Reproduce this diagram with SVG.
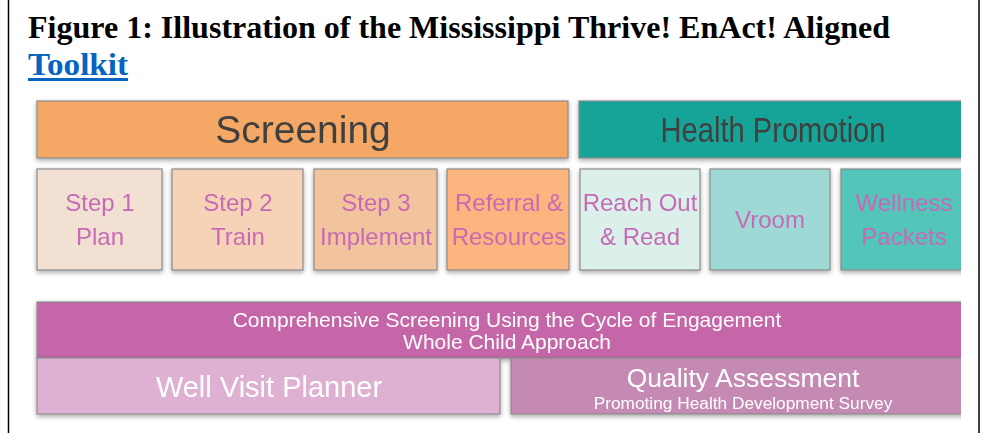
<svg xmlns="http://www.w3.org/2000/svg" width="981" height="433" viewBox="0 0 981 433">
<defs>
<filter id="sh" x="-5%" y="-10%" width="110%" height="130%">
<feGaussianBlur in="SourceAlpha" stdDeviation="2.5"/>
<feOffset dx="0" dy="2" result="b"/>
<feComponentTransfer><feFuncA type="linear" slope="0.35"/></feComponentTransfer>
<feMerge><feMergeNode/><feMergeNode in="SourceGraphic"/></feMerge>
</filter>
<clipPath id="cp"><rect x="0" y="90" width="961" height="343"/></clipPath>
</defs>
<style>
.t{font-family:"Liberation Serif","Times New Roman",serif;font-weight:bold;font-size:31px;fill:#000}
.b{stroke:#8a8a8a;stroke-width:1.2}
.s{font-family:"Liberation Sans",Arial,sans-serif;font-size:24px;fill:#C66BB5;text-anchor:middle}
.w{font-family:"Liberation Sans",Arial,sans-serif;fill:#fff;text-anchor:middle}
.h{font-family:"Liberation Sans",Arial,sans-serif;fill:#3f3f3f;text-anchor:middle}
</style>
<rect width="981" height="433" fill="#fff"/>
<line x1="8.5" y1="0" x2="8.5" y2="433" stroke="#000" stroke-width="1.5"/>
<line x1="979" y1="0" x2="979" y2="433" stroke="#000" stroke-width="1.5"/>
<text class="t" x="28" y="38" textLength="862" lengthAdjust="spacingAndGlyphs">Figure 1: Illustration of the Mississippi Thrive! EnAct! Aligned</text>
<text class="t" x="28" y="75" style="fill:#0563C1" textLength="100" lengthAdjust="spacingAndGlyphs">Toolkit</text>
<rect x="28" y="78" width="100" height="3" fill="#0563C1"/>
<g clip-path="url(#cp)">
<g id="screening" filter="url(#sh)"><rect class="b" x="37" y="101" width="531" height="57" fill="#F5A865"/><text class="h" x="303" y="143" font-size="39">Screening</text></g>
<g id="health-promotion" filter="url(#sh)"><rect class="b" x="579" y="101" width="400" height="57" fill="#18A398"/><text class="h" x="773" y="142" font-size="35" textLength="225" lengthAdjust="spacingAndGlyphs">Health Promotion</text></g>
<g id="step1" filter="url(#sh)"><rect class="b" x="37" y="169" width="125" height="101" fill="#F2E0D2"/><text class="s" x="100" y="211">Step 1</text><text class="s" x="100" y="245">Plan</text></g>
<g id="step2" filter="url(#sh)"><rect class="b" x="172" y="169" width="131" height="101" fill="#F6D3B6"/><text class="s" x="238" y="211">Step 2</text><text class="s" x="238" y="245">Train</text></g>
<g id="step3" filter="url(#sh)"><rect class="b" x="314" y="169" width="123" height="101" fill="#F2C49E"/><text class="s" x="376" y="211">Step 3</text><text class="s" x="376" y="245">Implement</text></g>
<g id="referral" filter="url(#sh)"><rect class="b" x="447" y="169" width="122" height="101" fill="#FDB57F"/><text class="s" x="509" y="211">Referral &amp;</text><text class="s" x="509" y="245">Resources</text></g>
<g id="reach-out" filter="url(#sh)"><rect class="b" x="580" y="169" width="120" height="101" fill="#DCF0EB"/><text class="s" x="640" y="211">Reach Out</text><text class="s" x="640" y="245">&amp; Read</text></g>
<g id="vroom" filter="url(#sh)"><rect class="b" x="710" y="169" width="120" height="101" fill="#9FD9D5"/><text class="s" x="770" y="228">Vroom</text></g>
<g id="wellness" filter="url(#sh)"><rect class="b" x="841" y="169" width="130" height="101" fill="#52C5B9"/><text class="s" x="904" y="211">Wellness</text><text class="s" x="904" y="245">Packets</text></g>
<g id="comprehensive" filter="url(#sh)"><rect class="b" x="37" y="302" width="940" height="56" fill="#C566A8"/><text class="w" x="507" y="327" font-size="21">Comprehensive Screening Using the Cycle of Engagement</text><text class="w" x="507" y="349" font-size="21">Whole Child Approach</text></g>
<g id="well-visit" filter="url(#sh)"><rect class="b" x="37" y="358" width="463" height="56" fill="#DEB0D1"/><text class="w" x="269" y="397" font-size="29">Well Visit Planner</text></g>
<g id="quality" filter="url(#sh)"><rect class="b" x="511" y="358" width="466" height="56" fill="#C58AB3"/><text class="w" x="743" y="387" font-size="26.5">Quality Assessment</text><text class="w" x="743" y="409" font-size="17.3">Promoting Health Development Survey</text></g>
</g>
</svg>
